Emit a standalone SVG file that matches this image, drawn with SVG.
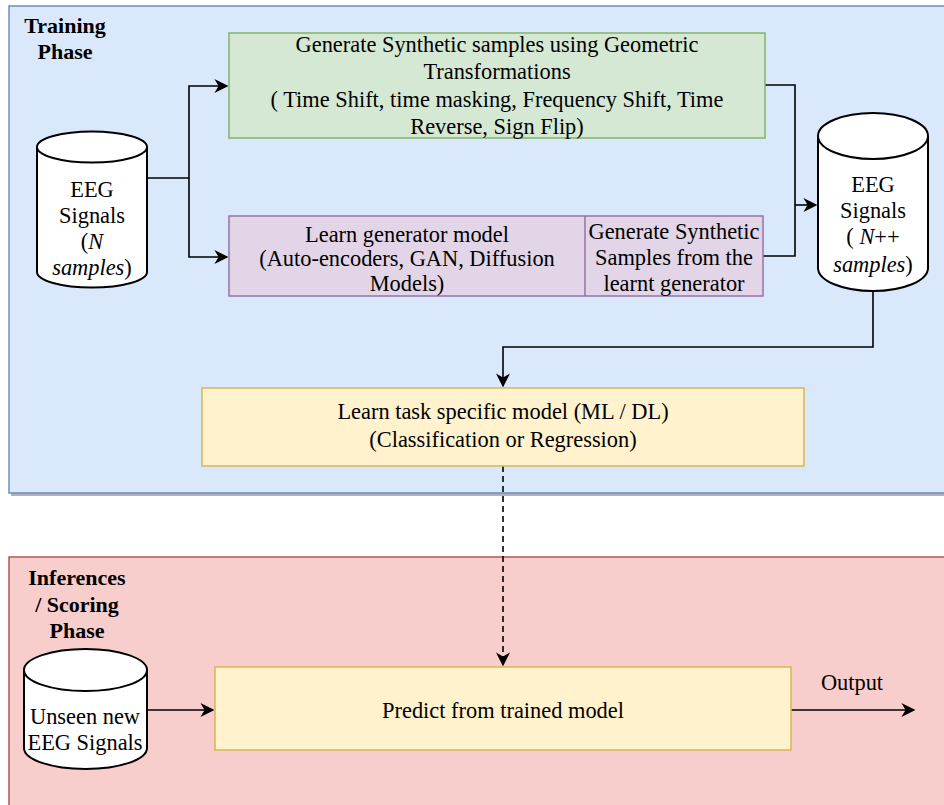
<svg xmlns="http://www.w3.org/2000/svg" width="944" height="805" viewBox="0 0 944 805">
  <defs>
    <marker id="arrowBig" viewBox="0 0 10 10" refX="9" refY="5" markerWidth="14" markerHeight="14" markerUnits="userSpaceOnUse" orient="auto">
      <path d="M0,0 L10,5 L0,10 L3,5 Z" fill="#000"/>
    </marker>
  </defs>
  <style>
    text { font-family: "Liberation Serif", "Times New Roman", serif; font-size: 22.4px; fill: #000; text-anchor: middle; }
    .title { font-weight: bold; font-size: 22px; }
    .conn { fill: none; stroke: #000; stroke-width: 1.6; }
    .db { fill: #fff; stroke: #000; stroke-width: 2; }
  </style>
  <rect width="944" height="805" fill="#fff"/>

  <!-- Training phase panel -->
  <g id="training-phase">
    <rect x="11" y="9" width="940" height="487" fill="#b3b3b3"/>
    <rect x="9" y="6" width="940" height="487" fill="#dae8fc" stroke="#6c8ebf" stroke-width="1.5"/>
    <text class="title" x="65" y="33">Training</text>
    <text class="title" x="65" y="59">Phase</text>
  </g>

  <!-- Inference / scoring phase panel -->
  <g id="inference-phase">
    <rect x="9" y="557" width="940" height="260" fill="#f8cecc" stroke="#b85450" stroke-width="1.5"/>
    <text class="title" x="77" y="585">Inferences</text>
    <text class="title" x="77" y="612">/ Scoring</text>
    <text class="title" x="77" y="638">Phase</text>
  </g>

  <!-- Connectors -->
  <g id="connectors">
    <polyline class="conn" points="148,178 189,178"/>
    <polyline class="conn" points="189,178 189,86 227,86" marker-end="url(#arrowBig)"/>
    <polyline class="conn" points="189,178 189,257 227,257" marker-end="url(#arrowBig)"/>
    <polyline class="conn" points="765,85 795,85 795,205"/>
    <polyline class="conn" points="763,256 795,256 795,205"/>
    <polyline class="conn" points="795,205 816,205" marker-end="url(#arrowBig)"/>
    <polyline class="conn" points="873,292 873,347 503,347 503,386" marker-end="url(#arrowBig)"/>
    <polyline class="conn" points="503,466 503,665" stroke-dasharray="6,4" marker-end="url(#arrowBig)"/>
    <polyline class="conn" points="147,710 213,710" marker-end="url(#arrowBig)"/>
    <polyline class="conn" points="791,710 914,710" marker-end="url(#arrowBig)"/>
    <text x="852" y="690">Output</text>
  </g>

  <!-- EEG signals (N samples) -->
  <g id="eeg-input">
    <path class="db" d="M37,147 A55,15.5 0 0 1 147,147 L147,272 A55,15.5 0 0 1 37,272 Z"/>
    <path class="db" d="M37,147 A55,15.5 0 0 0 147,147" fill="none"/>
    <text x="92" y="197">EEG</text>
    <text x="92" y="223">Signals</text>
    <text x="92" y="249">(<tspan font-style="italic">N</tspan></text>
    <text x="92" y="275"><tspan font-style="italic">samples</tspan>)</text>
  </g>

  <!-- Geometric transformations -->
  <g id="geometric-transformations">
    <rect x="229" y="33" width="536" height="105" fill="#d5e8d4" stroke="#82b366" stroke-width="1.5"/>
    <text x="497" y="52">Generate Synthetic samples using Geometric</text>
    <text x="497" y="79">Transformations</text>
    <text x="497" y="107">( Time Shift, time masking, Frequency Shift, Time</text>
    <text x="497" y="134">Reverse, Sign Flip)</text>
  </g>

  <!-- Generator model -->
  <g id="generator-model">
    <rect x="229" y="216" width="534" height="80" fill="#e1d5e7" stroke="#9673a6" stroke-width="1.5"/>
    <line x1="585" y1="216" x2="585" y2="296" stroke="#9673a6" stroke-width="1.5"/>
    <text x="407" y="242">Learn generator model</text>
    <text x="407" y="266">(Auto-encoders, GAN, Diffusion</text>
    <text x="407" y="291">Models)</text>
    <text x="674" y="239">Generate Synthetic</text>
    <text x="674" y="265">Samples from the</text>
    <text x="674" y="291">learnt generator</text>
  </g>

  <!-- EEG signals (N++ samples) -->
  <g id="eeg-augmented">
    <path class="db" d="M818,136 A55,23 0 0 1 928,136 L928,268 A55,23 0 0 1 818,268 Z"/>
    <path class="db" d="M818,136 A55,23 0 0 0 928,136" fill="none"/>
    <text x="873" y="192">EEG</text>
    <text x="873" y="218">Signals</text>
    <text x="873" y="244">( <tspan font-style="italic">N</tspan>++</text>
    <text x="873" y="272"><tspan font-style="italic">samples</tspan>)</text>
  </g>

  <!-- Task-specific model -->
  <g id="task-model">
    <rect x="202" y="388" width="602" height="78" fill="#fff2cc" stroke="#d6b656" stroke-width="1.5"/>
    <text x="503" y="419">Learn task specific model (ML / DL)</text>
    <text x="503" y="447">(Classification or Regression)</text>
  </g>

  <!-- Unseen EEG signals -->
  <g id="eeg-unseen">
    <path class="db" d="M24,670 A61.5,21 0 0 1 147,670 L147,748 A61.5,21 0 0 1 24,748 Z"/>
    <path class="db" d="M24,670 A61.5,21 0 0 0 147,670" fill="none"/>
    <text x="85" y="724">Unseen new</text>
    <text x="85" y="750">EEG Signals</text>
  </g>

  <!-- Prediction -->
  <g id="predict">
    <rect x="215" y="667" width="576" height="83" fill="#fff2cc" stroke="#d6b656" stroke-width="1.5"/>
    <text x="503" y="718">Predict from trained model</text>
  </g>
</svg>
